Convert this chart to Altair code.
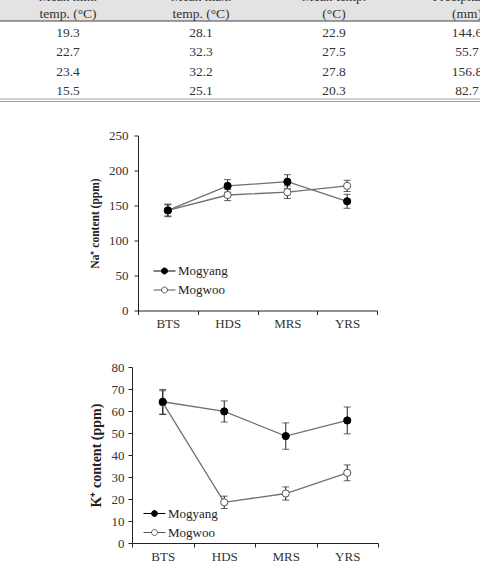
import altair as alt
import pandas as pd

SERIF = "Liberation Serif"

# Growth stages and cultivars
stages = ["BTS", "HDS", "MRS", "YRS"]
cultivars = ["Mogyang", "Mogwoo"]

# Na+ content (ppm), mean and error
na_mogyang = [143, 178, 184, 156]
na_mogyang_err = [9, 9, 10, 10]
na_mogwoo = [143, 165, 169, 178]
na_mogwoo_err = [8, 8, 9, 8]

# K+ content (ppm), mean and error
k_mogyang = [64.2, 59.8, 48.6, 55.7]
k_mogyang_err = [5.6, 4.8, 6.0, 6.1]
k_mogwoo = [63.8, 18.5, 22.5, 31.9]
k_mogwoo_err = [5.4, 2.8, 3.0, 3.6]

# Weather table
table_columns = ["min", "max", "mean", "precip"]
header_top = ["Mean min.", "Mean max.", "Mean temp.", "Precipitation"]
header_bottom = ["temp. (\u00b0C)", "temp. (\u00b0C)", "(\u00b0C)", "(mm)"]
min_temp = ["19.3", "22.7", "23.4", "15.5"]
max_temp = ["28.1", "32.3", "32.2", "25.1"]
mean_temp = ["22.9", "27.5", "27.8", "20.3"]
precip = ["144.6", "55.7", "156.8", "82.7"]
header_lines = ["h1", "h2"]
body_lines = ["r1", "r2", "r3", "r4"]


def table_text(df, lines, y_range):
    return alt.Chart(df).mark_text(
        font=SERIF, fontSize=13.5, color="#333333", align="center",
        baseline="middle", clip=True
    ).encode(
        x=alt.X("col:N", sort=table_columns,
                scale=alt.Scale(type="point", range=[68, 467], padding=0), axis=None),
        y=alt.Y("line:N", sort=lines,
                scale=alt.Scale(type="point", range=y_range, padding=0), axis=None),
        text="label:N",
    )


def weather_table():
    head, body = [], []
    for col, top, bottom in zip(table_columns, header_top, header_bottom):
        head.append({"col": col, "line": "h1", "label": top})
        head.append({"col": col, "line": "h2", "label": bottom})
    for i, line in enumerate(body_lines):
        for col, series in zip(table_columns, [min_temp, max_temp, mean_temp, precip]):
            body.append({"col": col, "line": line, "label": series[i]})

    frame = alt.Chart(pd.DataFrame({"part": ["frame"]}))
    # shaded header band, drawn as a wide flat stroke clipped to the table
    header_bg = frame.mark_rule(
        color="#e3e3e3", strokeWidth=21, strokeCap="butt", clip=True
    ).encode(x=alt.value(0), x2=alt.value(480), y=alt.value(10.5))
    header_rule = frame.mark_rule(color="#444444", strokeWidth=1, clip=True).encode(
        x=alt.value(0), x2=alt.value(480), y=alt.value(21))
    foot_rule1 = frame.mark_rule(color="#8a8a8a", strokeWidth=0.8, clip=True).encode(
        x=alt.value(0), x2=alt.value(480), y=alt.value(99))
    foot_rule2 = frame.mark_rule(color="#8a8a8a", strokeWidth=0.8, clip=True).encode(
        x=alt.value(0), x2=alt.value(480), y=alt.value(101.5))

    head_text = table_text(pd.DataFrame(head), header_lines, [-3.5, 13.5])
    body_text = table_text(pd.DataFrame(body), body_lines, [33, 91])
    return alt.layer(
        header_bg, header_rule, foot_rule1, foot_rule2, head_text, body_text
    ).resolve_scale(y="independent").properties(width=480, height=103)


def series_frame(a, a_err, b, b_err):
    rows = []
    for name, vals, errs in (("Mogwoo", b, b_err), ("Mogyang", a, a_err)):
        for st, v, e in zip(stages, vals, errs):
            rows.append({"stage": st, "cultivar": name, "value": v,
                         "lo": v - e, "hi": v + e})
    return pd.DataFrame(rows)


# legend symbol: short line with a circle in the middle
LEGEND_SYMBOL = (
    "M-1,0L-0.27,0M0.27,0L1,0"
    "M0.27,0C0.27,0.149,0.149,0.27,0,0.27C-0.149,0.27,-0.27,0.149,-0.27,0"
    "C-0.27,-0.149,-0.149,-0.27,0,-0.27C0.149,-0.27,0.27,-0.149,0.27,0Z"
)


def ion_chart(df, y_max, y_step, title, title_size, width, height,
              title_x, label_pad, legend_x, legend_y, row_pad):
    x = alt.X(
        "stage:N", sort=stages,
        scale=alt.Scale(type="band", paddingInner=0, paddingOuter=0),
        axis=alt.Axis(title=None, labelAngle=0, tickBand="extent",
                      labelFont=SERIF, labelFontSize=13, labelColor="#333333",
                      labelPadding=3, tickSize=4, tickColor="#222222",
                      domainColor="#222222", grid=False),
    )
    y_scale = alt.Scale(domain=[0, y_max], nice=False)
    y_axis = alt.Axis(
        values=list(range(0, y_max + 1, y_step)), title=title,
        titleFont=SERIF, titleFontWeight="bold", titleFontSize=title_size,
        titleColor="#222222", titleAngle=270, titleAlign="center",
        titleBaseline="middle", titleX=title_x, titleY=height / 2,
        labelFont=SERIF, labelFontSize=13, labelColor="#333333",
        labelPadding=label_pad, tickSize=4, tickColor="#222222",
        domainColor="#222222", grid=False,
    )

    def yenc(field):
        return alt.Y(field, scale=y_scale, axis=y_axis)

    legend = alt.Legend(
        title=None, orient="none", legendX=legend_x, legendY=legend_y,
        symbolType=LEGEND_SYMBOL, symbolSize=484, symbolStrokeWidth=1,
        labelFont=SERIF, labelFontSize=13, labelColor="#222222",
        labelOffset=2, rowPadding=row_pad, padding=0,
    )

    base = alt.Chart(df)
    line = base.mark_line(color="#707070", strokeWidth=1.3).encode(
        x=x, y=yenc("value:Q"), detail="cultivar:N")
    bars = base.mark_rule(color="#222222", strokeWidth=1).encode(
        x=x, y=yenc("lo:Q"), y2="hi:Q")
    caps = base.transform_fold(["lo", "hi"], as_=["end", "bound"]).mark_tick(
        orient="horizontal", color="#222222", thickness=1, size=7
    ).encode(x=x, y=yenc("bound:Q"))
    dots = base.mark_point(filled=True, size=52, strokeWidth=1, opacity=1).encode(
        x=x, y=yenc("value:Q"),
        fill=alt.Fill("cultivar:N",
                      scale=alt.Scale(domain=cultivars, range=["#000000", "#ffffff"]),
                      legend=legend),
        stroke=alt.Stroke("cultivar:N",
                          scale=alt.Scale(domain=cultivars, range=["#000000", "#555555"]),
                          legend=legend),
    )
    return alt.layer(line, bars, caps, dots).properties(width=width, height=height)


def spacer(w):
    return alt.Chart(pd.DataFrame({"gap": [0]})).mark_point(opacity=0).properties(
        width=w, height=1)


def own_legends(c):
    return c.resolve_scale(fill="independent", stroke="independent").resolve_legend(
        fill="independent", stroke="independent")


na_chart = ion_chart(
    series_frame(na_mogyang, na_mogyang_err, na_mogwoo, na_mogwoo_err),
    250, 50, "Na\u207a content (ppm)", 11.5, 239, 175,
    title_x=-43, label_pad=6, legend_x=15, legend_y=124, row_pad=-2)

k_chart = ion_chart(
    series_frame(k_mogyang, k_mogyang_err, k_mogwoo, k_mogwoo_err),
    80, 10, "K\u207a content (ppm)", 14, 246, 176,
    title_x=-35.5, label_pad=4, legend_x=11, legend_y=135, row_pad=-2)

na_row = own_legends(alt.hconcat(spacer(89), na_chart, spacing=0))
k_row = own_legends(alt.hconcat(spacer(88.5), k_chart, spacing=0))

chart = own_legends(alt.vconcat(
    weather_table(),
    own_legends(alt.vconcat(na_row, k_row, spacing=30.5)),
    spacing=26.5,
)).properties(
    padding=0, background="white"
).configure_view(stroke=None)

chart.save("out.html", embed_options={"renderer": "svg", "actions": False})
